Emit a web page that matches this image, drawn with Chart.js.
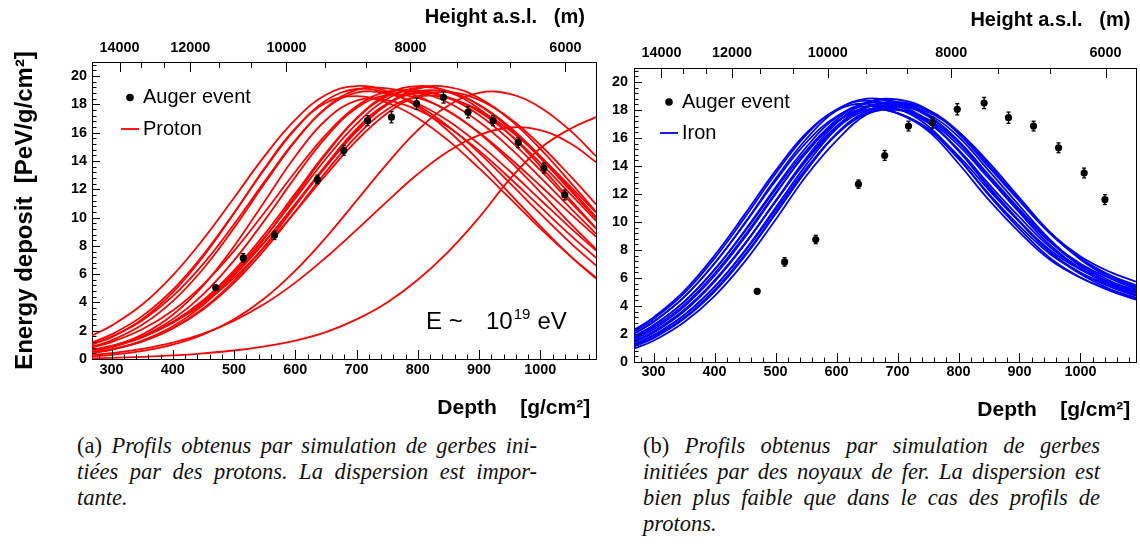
<!DOCTYPE html>
<html>
<head>
<meta charset="utf-8">
<script src="https://cdn.jsdelivr.net/npm/chart.js@4.4.1/dist/chart.umd.min.js"></script>
<style>
  html, body { margin: 0; padding: 0; background: #fff; }
  body { width: 1140px; height: 556px; position: relative; overflow: hidden; }
  canvas { position: absolute; top: 0; }
  #leftChart { left: 0; }
  #rightChart { left: 600px; }
  .cap { position: absolute; font-family: "Liberation Serif", "Times New Roman", serif; font-size: 22.5px; line-height: 26px; color: #111; }
  .cap .j { text-align: justify; text-align-last: justify; }
  .cap .l { text-align: left; }
  .cap i { font-style: italic; }
</style>
</head>
<body>
<canvas id="leftChart" width="600" height="430"></canvas>
<canvas id="rightChart" width="540" height="430"></canvas>

<div class="cap" style="left:77px; top:433px; width:460px;">
  <div class="j">(a) <i>Profils obtenus par simulation de gerbes ini-</i></div>
  <div class="j"><i>tiées par des protons. La dispersion est impor-</i></div>
  <div class="l"><i>tante.</i></div>
</div>
<div class="cap" style="left:643px; top:433px; width:457px;">
  <div class="j">(b) <i>Profils obtenus par simulation de gerbes</i></div>
  <div class="j"><i>initiées par des noyaux de fer. La dispersion est</i></div>
  <div class="j"><i>bien plus faible que dans le cas des profils de</i></div>
  <div class="l"><i>protons.</i></div>
</div>

<script>
// ---------------- DATA ----------------
// Depth grid (g/cm^2) at which each simulated profile was read off the picture
const depthGrid = [268, 300, 350, 400, 450, 500, 550, 600, 650, 700, 750, 800, 850, 900, 950, 1000, 1050, 1091];

// Proton profiles (PeV/g/cm^2), one array per simulated shower
const proton01 = [1.66, 2.36, 3.85, 5.92, 8.49, 11.40, 14.36, 16.92, 18.68, 19.30, 18.92, 17.82, 16.12, 14.01, 11.71, 9.40, 7.24, 5.68];
const proton02 = [1.17, 1.74, 3.03, 4.90, 7.39, 10.34, 13.44, 16.25, 18.27, 19.09, 18.83, 17.92, 16.45, 14.57, 12.45, 10.28, 8.18, 6.61];
const proton03 = [0.87, 1.32, 2.42, 4.09, 6.40, 9.27, 12.42, 15.41, 17.71, 18.83, 18.75, 18.05, 16.83, 15.19, 13.29, 11.26, 9.24, 7.67];
const proton04 = [1.02, 1.55, 2.82, 4.71, 7.27, 10.31, 13.51, 16.30, 18.12, 18.59, 18.12, 17.03, 15.44, 13.49, 11.37, 9.24, 7.24, 5.76];
const proton05 = [1.07, 1.57, 2.73, 4.44, 6.74, 9.53, 12.56, 15.46, 17.76, 19.03, 19.13, 18.57, 17.50, 16.01, 14.21, 12.25, 10.24, 8.66];
const proton06 = [0.54, 0.87, 1.73, 3.13, 5.21, 7.97, 11.16, 14.34, 16.90, 18.27, 18.29, 17.61, 16.39, 14.73, 12.80, 10.75, 8.72, 7.16];
const proton07 = [0.55, 0.85, 1.61, 2.82, 4.59, 6.97, 9.82, 12.86, 15.67, 17.74, 18.67, 18.46, 17.53, 15.98, 14.01, 11.80, 9.54, 7.78];
const proton08 = [0.82, 1.20, 2.10, 3.43, 5.28, 7.64, 10.38, 13.24, 15.87, 17.87, 18.91, 18.87, 18.12, 16.77, 14.95, 12.84, 10.64, 8.86];
const proton09 = [0.57, 0.85, 1.54, 2.61, 4.17, 6.27, 8.84, 11.71, 14.57, 17.03, 18.71, 19.30, 18.89, 17.70, 15.88, 13.64, 11.22, 9.25];
const proton10 = [0.59, 0.87, 1.55, 2.60, 4.11, 6.12, 8.60, 11.36, 14.16, 16.62, 18.39, 19.18, 18.95, 17.95, 16.31, 14.21, 11.88, 9.95];
const proton11 = [0.60, 0.89, 1.55, 2.57, 4.02, 5.95, 8.31, 10.97, 13.69, 16.14, 17.97, 18.91, 18.85, 17.97, 16.41, 14.34, 12.00, 10.05];
const proton12 = [0.42, 0.66, 1.24, 2.18, 3.59, 5.53, 7.99, 10.82, 13.71, 16.27, 18.07, 18.79, 18.50, 17.49, 15.89, 13.87, 11.63, 9.77];
const proton13 = [0.63, 0.92, 1.60, 2.61, 4.05, 5.94, 8.27, 10.89, 13.59, 16.07, 18.01, 19.11, 19.23, 18.46, 16.94, 14.86, 12.45, 10.41];
const proton14 = [0.44, 0.68, 1.25, 2.16, 3.52, 5.38, 7.73, 10.44, 13.23, 15.76, 17.64, 18.55, 18.43, 17.60, 16.17, 14.30, 12.16, 10.36];
const proton15 = [0.44, 0.68, 1.30, 2.31, 3.83, 5.93, 8.56, 11.52, 14.48, 16.98, 18.58, 18.98, 18.46, 17.25, 15.48, 13.35, 11.06, 9.21];
const proton16 = [0.64, 0.93, 1.58, 2.56, 3.92, 5.73, 7.93, 10.42, 13.01, 15.44, 17.38, 18.59, 18.88, 18.32, 17.02, 15.13, 12.89, 10.94];
const proton17 = [0.19, 0.29, 0.57, 1.01, 1.73, 2.81, 4.30, 6.25, 8.59, 11.20, 13.82, 16.18, 17.92, 18.82, 18.74, 17.79, 16.11, 14.34];
const proton18 = [0.29, 0.41, 0.71, 1.15, 1.80, 2.71, 3.90, 5.40, 7.18, 9.13, 11.15, 13.08, 14.69, 15.83, 16.37, 16.19, 15.22, 13.92];
const proton19 = [0.05, 0.08, 0.15, 0.25, 0.40, 0.60, 0.90, 1.30, 1.90, 2.80, 4.00, 5.60, 7.60, 10.00, 12.70, 14.90, 16.30, 17.10];

// Iron profiles (PeV/g/cm^2)
const iron01 = [2.18, 3.06, 4.90, 7.40, 10.35, 13.45, 16.21, 18.04, 18.67, 18.11, 16.86, 14.58, 11.90, 9.51, 7.43, 6.03, 5.06, 4.45];
const iron02 = [2.04, 2.88, 4.64, 7.04, 9.90, 12.93, 15.65, 17.54, 18.27, 17.79, 16.63, 14.51, 11.99, 9.71, 7.72, 6.38, 5.47, 4.92];
const iron03 = [2.01, 2.85, 4.63, 7.05, 9.96, 13.08, 15.91, 17.96, 18.81, 18.41, 17.23, 15.07, 12.43, 10.01, 7.86, 6.37, 5.35, 4.72];
const iron04 = [1.84, 2.62, 4.30, 6.58, 9.35, 12.33, 15.09, 17.15, 18.05, 17.76, 16.69, 14.72, 12.28, 10.02, 8.00, 6.60, 5.66, 5.09];
const iron05 = [1.82, 2.60, 4.29, 6.60, 9.41, 12.47, 15.32, 17.48, 18.49, 18.26, 17.17, 15.12, 12.51, 10.07, 7.86, 6.28, 5.18, 4.51];
const iron06 = [1.71, 2.46, 4.08, 6.32, 9.06, 12.07, 14.91, 17.12, 18.22, 18.07, 17.09, 15.17, 12.70, 10.35, 8.21, 6.68, 5.63, 5.01];
const iron07 = [1.60, 2.34, 3.94, 6.16, 8.92, 11.99, 14.95, 17.30, 18.57, 18.57, 17.63, 15.72, 13.15, 10.66, 8.36, 6.66, 5.47, 4.77];
const iron08 = [1.49, 2.18, 3.71, 5.83, 8.48, 11.46, 14.35, 16.69, 17.99, 18.06, 17.23, 15.48, 13.10, 10.77, 8.61, 7.02, 5.95, 5.32];
const iron09 = [1.44, 2.13, 3.66, 5.77, 8.44, 11.46, 14.42, 16.84, 18.22, 18.36, 17.56, 15.80, 13.34, 10.91, 8.64, 6.94, 5.77, 5.09];
const iron10 = [1.40, 2.09, 3.61, 5.74, 8.43, 11.51, 14.55, 17.07, 18.53, 18.75, 18.02, 16.32, 13.91, 11.50, 9.23, 7.54, 6.40, 5.74];
const iron11 = [1.28, 1.92, 3.35, 5.36, 7.92, 10.86, 13.80, 16.27, 17.72, 18.00, 17.33, 15.69, 13.29, 10.87, 8.58, 6.84, 5.62, 4.93];
const iron12 = [1.25, 1.89, 3.34, 5.37, 7.98, 11.01, 14.06, 16.66, 18.20, 18.57, 17.97, 16.35, 13.95, 11.51, 9.18, 7.39, 6.17, 5.48];
const iron13 = [1.16, 1.77, 3.16, 5.13, 7.67, 10.64, 13.66, 16.26, 17.81, 18.25, 17.70, 16.09, 13.65, 11.15, 8.74, 6.86, 5.54, 4.78];
const iron14 = [1.10, 1.70, 3.08, 5.03, 7.58, 10.57, 13.64, 16.32, 17.93, 18.44, 17.99, 16.46, 14.09, 11.63, 9.24, 7.39, 6.11, 5.38];
const iron15 = [2.29, 3.19, 5.07, 7.61, 10.58, 13.65, 16.33, 17.97, 18.44, 17.76, 16.51, 14.18, 11.56, 9.26, 7.30, 6.02, 5.15, 4.60];
const iron16 = [0.96, 1.52, 2.84, 4.71, 7.19, 10.16, 13.27, 15.81, 17.69, 18.36, 17.84, 16.44, 14.24, 11.73, 9.27, 7.32, 5.97, 5.20];

// Auger event (measured profile)
const augerDepth = [470, 515, 566, 636, 679, 718, 757, 798, 842, 882, 923, 964, 1006, 1040];
const augerValue = [5.05, 7.15, 8.75, 12.7, 14.75, 16.85, 17.1, 18.05, 18.5, 17.45, 16.85, 15.3, 13.5, 11.6];
const augerError = [0.15, 0.3, 0.3, 0.3, 0.35, 0.35, 0.4, 0.4, 0.4, 0.4, 0.35, 0.35, 0.35, 0.35];

// Axis ticks
const depthTicks = [300, 400, 500, 600, 700, 800, 900, 1000];
const energyTicks = [0, 2, 4, 6, 8, 10, 12, 14, 16, 18, 20];
const heightLabels = ['14000', '12000', '10000', '8000', '6000'];
const heightDepth = [313, 428.6, 585.5, 788, 1041];
const heightMinorDepth = [348, 386, 475, 528, 648, 715, 864, 950];

const protonProfiles = [proton01, proton02, proton03, proton04, proton05, proton06, proton07, proton08, proton09, proton10,
  proton11, proton12, proton13, proton14, proton15, proton16, proton17, proton18, proton19];
const ironProfiles = [iron15, iron01, iron02, iron03, iron04, iron05, iron06, iron07, iron08, iron09, iron10, iron11, iron12, iron13, iron14, iron16];

// ---------------- CHARTS ----------------
Chart.defaults.font.family = "'Liberation Sans', Arial, Helvetica, sans-serif";
Chart.defaults.color = '#000';

function curveSets(list, color, width) {
  return list.map((vals, k) => ({
    label: 'sim' + k,
    showLine: true,
    data: depthGrid.map((x, i) => ({ x: x, y: vals[i] })),
    borderColor: color,
    borderWidth: width,
    pointRadius: 0,
    pointHoverRadius: 0,
    tension: 0.4,
    fill: false,
    order: 1
  }));
}

function augerSet() {
  return {
    label: 'Auger event',
    showLine: false,
    data: augerDepth.map((x, i) => ({ x: x, y: augerValue[i] })),
    pointRadius: 3.6,
    pointHoverRadius: 3.6,
    pointBackgroundColor: '#000',
    pointBorderColor: '#000',
    pointBorderWidth: 0,
    order: 0
  };
}

function stroke(ctx, x1, y1, x2, y2) {
  ctx.beginPath(); ctx.moveTo(x1, y1); ctx.lineTo(x2, y2); ctx.stroke();
}

const rootDecor = {
  id: 'rootDecor',
  afterDatasetsDraw(chart) {
    const ctx = chart.ctx, xs = chart.scales.x, ys = chart.scales.y;
    ctx.save();
    ctx.strokeStyle = '#000';
    ctx.lineWidth = 1.3;
    augerDepth.forEach((d, i) => {
      const px = xs.getPixelForValue(d);
      const y1 = ys.getPixelForValue(augerValue[i] - augerError[i]);
      const y2 = ys.getPixelForValue(augerValue[i] + augerError[i]);
      stroke(ctx, px, y1, px, y2);
      stroke(ctx, px - 2, y1, px + 2, y1);
      stroke(ctx, px - 2, y2, px + 2, y2);
    });
    ctx.restore();
  },
  afterDraw(chart, args, opts) {
    const ctx = chart.ctx, ca = chart.chartArea;
    const xs = chart.scales.x, ys = chart.scales.y, xt = chart.scales.x2;
    ctx.save();
    ctx.strokeStyle = '#000';
    ctx.lineWidth = 1;
    depthTicks.forEach(v => { const p = Math.round(xs.getPixelForValue(v)) + 0.5; stroke(ctx, p, ca.bottom, p, ca.bottom - 9); });
    for (let v = 280; v <= 1090; v += 20) {
      if (v % 100 === 0) continue;
      const p = Math.round(xs.getPixelForValue(v)) + 0.5;
      stroke(ctx, p, ca.bottom, p, ca.bottom - 4.5);
    }
    energyTicks.forEach(v => { const p = Math.round(ys.getPixelForValue(v)) + 0.5; stroke(ctx, ca.left, p, ca.left + 8, p); });
    for (let k = 1; k * 0.4 <= 21; k++) {
      if (k % 5 === 0) continue;
      const p = Math.round(ys.getPixelForValue(k * 0.4)) + 0.5;
      stroke(ctx, ca.left, p, ca.left + 4.5, p);
    }
    heightDepth.forEach(v => { const p = Math.round(xt.getPixelForValue(v)) + 0.5; stroke(ctx, p, ca.top, p, ca.top + 10); });
    heightMinorDepth.forEach(v => { const p = Math.round(xt.getPixelForValue(v)) + 0.5; stroke(ctx, p, ca.top, p, ca.top + 6); });

    const lg = opts.legend;
    ctx.font = "20px 'Liberation Sans', Arial, sans-serif";
    ctx.textBaseline = 'middle';
    ctx.textAlign = 'left';
    ctx.fillStyle = '#000';
    ctx.beginPath(); ctx.arc(lg.x, lg.dotY, 3.8, 0, Math.PI * 2); ctx.fill();
    ctx.fillText('Auger event', lg.x + 13, lg.dotY);
    ctx.strokeStyle = lg.color; ctx.lineWidth = 1.8;
    stroke(ctx, lg.x - 9, lg.lineY, lg.x + 9, lg.lineY);
    ctx.fillStyle = '#000';
    ctx.fillText(lg.label, lg.x + 13, lg.lineY);

    if (opts.energy) {
      const e = opts.energy;
      ctx.textBaseline = 'alphabetic';
      ctx.font = "24px 'Liberation Sans', Arial, sans-serif";
      ctx.fillText('E ~', e.x, e.y);
      ctx.fillText('10', e.x10, e.y);
      const w10 = ctx.measureText('10').width;
      ctx.font = "15px 'Liberation Sans', Arial, sans-serif";
      ctx.fillText('19', e.x10 + w10 + 1, e.y - 10);
      const w19 = ctx.measureText('19').width;
      ctx.font = "24px 'Liberation Sans', Arial, sans-serif";
      ctx.fillText('eV', e.x10 + w10 + w19 + 8, e.y);
    }
    ctx.restore();
  }
};

function buildChart(id, cfg) {
  const tickFont = { weight: 'bold', size: 14.4 };
  return new Chart(document.getElementById(id), {
    type: 'scatter',
    data: { datasets: [augerSet()].concat(curveSets(cfg.profiles, cfg.color, cfg.lineWidth)) },
    options: {
      responsive: false,
      animation: false,
      devicePixelRatio: 1,
      events: [],
      layout: { padding: 0 },
      plugins: {
        legend: { display: false },
        tooltip: { enabled: false },
        rootDecor: { legend: cfg.legend, energy: cfg.energy }
      },
      scales: {
        x: {
          type: 'linear', position: 'bottom', min: 268, max: 1091,
          afterBuildTicks: s => { s.ticks = depthTicks.map(v => ({ value: v })); },
          afterFit: s => { s.height = cfg.bottomH; },
          ticks: { font: tickFont, color: '#000', padding: cfg.xLabelPad, autoSkip: false, maxRotation: 0, minRotation: 0, callback: v => String(v) },
          grid: { display: false, drawTicks: false },
          border: { display: true, color: '#000', width: 1 },
          title: { display: true, text: cfg.bottomTitle, align: 'end', color: '#000', font: { weight: 'bold', size: 21 }, padding: { top: 0, bottom: cfg.xTitlePad } }
        },
        x2: {
          type: 'linear', position: 'top', min: 268, max: 1091,
          afterBuildTicks: s => { s.ticks = heightDepth.map(v => ({ value: v })); },
          afterFit: s => { s.height = cfg.topH; },
          ticks: { font: tickFont, color: '#000', padding: cfg.topLabelPad, autoSkip: false, maxRotation: 0, minRotation: 0, callback: (v, i) => heightLabels[i] },
          grid: { display: false, drawTicks: false },
          border: { display: true, color: '#000', width: 1 },
          title: { display: true, text: cfg.topTitle, align: 'end', color: '#000', font: { weight: 'bold', size: 20 }, padding: { top: cfg.topTitlePad, bottom: 0 } }
        },
        y: {
          type: 'linear', position: 'left', min: 0, max: 21,
          afterBuildTicks: s => { s.ticks = energyTicks.map(v => ({ value: v })); },
          afterFit: s => { s.width = cfg.leftW; },
          ticks: { font: tickFont, color: '#000', padding: cfg.yLabelPad, autoSkip: false, callback: v => String(v) },
          grid: { display: false, drawTicks: false },
          border: { display: true, color: '#000', width: 1 },
          title: { display: cfg.yTitle, text: 'Energy deposit  [PeV/g/cm\u00B2]', align: 'center', color: '#000', font: { weight: 'bold', size: 24 }, padding: { top: 11, bottom: 0 } }
        },
        yr: {
          type: 'linear', position: 'right', min: 0, max: 21,
          afterFit: s => { s.width = 4; },
          ticks: { display: false },
          grid: { display: false, drawTicks: false },
          border: { display: true, color: '#000', width: 1 }
        }
      }
    },
    plugins: [rootDecor]
  });
}

buildChart('leftChart', {
  profiles: protonProfiles, color: '#ff0000', lineWidth: 1.8,
  topH: 62, bottomH: 71, leftW: 92,
  xLabelPad: 2, xTitlePad: 9.4, topLabelPad: 5.4, topTitlePad: 5, yLabelPad: 5,
  yTitle: true,
  topTitle: 'Height a.s.l.   (m)  ', bottomTitle: 'Depth    [g/cm\u00B2] ',
  legend: { x: 130, dotY: 97.5, lineY: 129, color: '#ff0000', label: 'Proton' },
  energy: { x: 426, x10: 486, y: 329 }
});

buildChart('rightChart', {
  profiles: ironProfiles, color: '#0000ff', lineWidth: 1.8,
  topH: 68, bottomH: 68, leftW: 34,
  xLabelPad: 1.4, xTitlePad: 7.4, topLabelPad: 6.4, topTitlePad: 8, yLabelPad: 6,
  yTitle: false,
  topTitle: 'Height a.s.l.   (m) ', bottomTitle: 'Depth    [g/cm\u00B2] ',
  legend: { x: 69, dotY: 102, lineY: 133, color: '#0000ff', label: 'Iron' },
  energy: null
});
</script>
</body>
</html>
